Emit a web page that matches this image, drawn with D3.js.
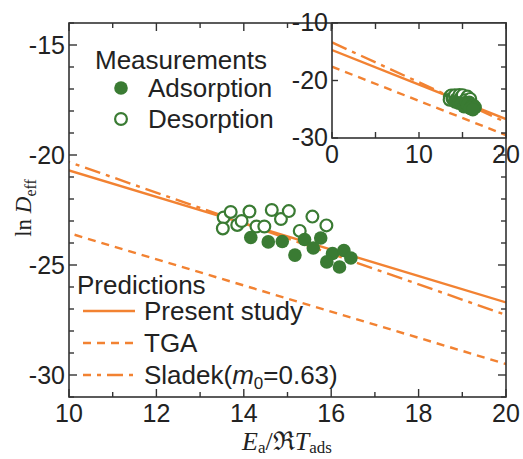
<!DOCTYPE html>
<html>
<head>
<meta charset="utf-8">
<script src="https://cdn.jsdelivr.net/npm/d3@7"></script>
<style>
  body { margin: 0; background: #fff; }
  text { font-family: "Liberation Sans", Arial, sans-serif; fill: #222; }
  .serif { font-family: "Liberation Serif", "DejaVu Serif", serif; }
</style>
</head>
<body>
<svg id="chart" width="523" height="459"></svg>
<script>
// data
const adsX = [14.16, 14.56, 14.88, 15.17, 15.39, 15.76, 15.59, 16.03, 16.29, 16.45, 15.90, 16.19];
const adsY = [-23.75, -23.95, -23.93, -24.55, -23.84, -23.77, -24.23, -24.48, -24.34, -24.68, -24.86, -25.09];
const desX = [13.54, 13.70, 13.52, 13.85, 13.95, 14.13, 14.29, 14.47, 14.64, 14.85, 15.03, 15.57, 15.28, 15.89];
const desY = [-22.84, -22.59, -23.34, -23.18, -23.0, -22.57, -23.25, -23.25, -22.5, -22.91, -22.55, -22.8, -23.45, -23.2];

// prediction lines, values at lineX
const lineX = [0, 10, 20];
const presentY = [-14.7, -20.7, -26.7];
const tgaY = [-17.6, -23.55, -29.5];
const sladekY = [-13.37, -20.32, -27.27];

const xTickLabels = [10, 12, 14, 16, 18, 20];
const yTickLabels = [-15, -20, -25, -30];
const insetXTicks = [0, 10, 20];
const insetYTicks = [-10, -20, -30];

const orange = "#f28232";
const green = "#3a7b33";
const axisCol = "#333";
const tickFont = 25;
const legFont = 26;

const svg = d3.select("#chart");

// main scales
const x = d3.scaleLinear().domain([10, 20]).range([69, 506]);
const y = d3.scaleLinear().domain([-31, -14]).range([397, 23]);

// inset scales
const xi = d3.scaleLinear().domain([0, 20]).range([332, 506]);
const yi = d3.scaleLinear().domain([-30, -10]).range([138, 23]);

const series = [
  { name: "Present study", vals: presentY, dash: null },
  { name: "TGA", vals: tgaY, dash: "8,6" },
  { name: "Sladek", vals: sladekY, dash: "16,6,4,6" }
];

svg.append("clipPath").attr("id", "clipMain")
  .append("rect").attr("x", 69).attr("y", 23).attr("width", 437).attr("height", 374);

const main = svg.append("g").attr("clip-path", "url(#clipMain)");

function drawLines(g, xs, ys) {
  const line = d3.line().x((d, i) => xs(lineX[i])).y(d => ys(d));
  series.forEach(s => {
    g.append("path")
      .attr("d", line(s.vals))
      .attr("fill", "none")
      .attr("stroke", orange)
      .attr("stroke-width", 2.4)
      .attr("stroke-dasharray", s.dash);
  });
}

function drawPoints(g, xs, ys) {
  g.selectAll(".des").data(desX).join("circle")
    .attr("class", "des")
    .attr("cx", d => xs(d))
    .attr("cy", (d, i) => ys(desY[i]))
    .attr("r", 5.9)
    .attr("fill", "#fff")
    .attr("stroke", green)
    .attr("stroke-width", 2.2);
  g.selectAll(".ads").data(adsX).join("circle")
    .attr("class", "ads")
    .attr("cx", d => xs(d))
    .attr("cy", (d, i) => ys(adsY[i]))
    .attr("r", 6.8)
    .attr("fill", green);
}

drawLines(main, x, y);
drawPoints(main, x, y);

// main frame + ticks (inward)
svg.append("rect").attr("x", 69).attr("y", 23).attr("width", 437).attr("height", 374)
  .attr("fill", "none").attr("stroke", axisCol).attr("stroke-width", 1.6);

const ticks = svg.append("g").attr("stroke", axisCol).attr("stroke-width", 1.4);
d3.range(10, 20.01, 1).forEach(v => {
  const len = v % 2 === 0 ? 8 : 5;
  ticks.append("line").attr("x1", x(v)).attr("x2", x(v)).attr("y1", 397).attr("y2", 397 - len);
  ticks.append("line").attr("x1", x(v)).attr("x2", x(v)).attr("y1", 23).attr("y2", 23 + len);
});
d3.range(-31, -13.99, 1).forEach(v => {
  const len = v % 5 === 0 ? 8 : 5;
  ticks.append("line").attr("x1", 69).attr("x2", 69 + len).attr("y1", y(v)).attr("y2", y(v));
  ticks.append("line").attr("x1", 506).attr("x2", 506 - len).attr("y1", y(v)).attr("y2", y(v));
});

svg.append("g").selectAll("text").data(xTickLabels).join("text")
  .attr("x", d => x(d)).attr("y", 422)
  .attr("text-anchor", "middle").attr("font-size", tickFont)
  .text(d => d);
svg.append("g").selectAll("text").data(yTickLabels).join("text")
  .attr("x", 65).attr("y", d => y(d) + 9)
  .attr("text-anchor", "end").attr("font-size", tickFont)
  .text(d => d);

// axis titles
const xt = svg.append("text").attr("class", "serif")
  .attr("x", 287).attr("y", 450).attr("text-anchor", "middle").attr("font-size", 26);
xt.append("tspan").attr("font-style", "italic").text("E");
xt.append("tspan").attr("font-size", 17).attr("dy", 3).text("a");
xt.append("tspan").attr("dy", -3).text("/ℜ");
xt.append("tspan").attr("font-style", "italic").text("T");
xt.append("tspan").attr("font-size", 17).attr("dy", 3).text("ads");

const yt = svg.append("text").attr("class", "serif")
  .attr("transform", "translate(31,208) rotate(-90)")
  .attr("text-anchor", "middle").attr("font-size", 23);
yt.append("tspan").text("ln ");
yt.append("tspan").attr("font-style", "italic").text("D");
yt.append("tspan").attr("font-size", 16).attr("dy", 5).text("eff");

// legends
svg.append("text").attr("x", 95).attr("y", 69).attr("font-size", legFont).text("Measurements");
svg.append("circle").attr("cx", 121).attr("cy", 88).attr("r", 6.8).attr("fill", green);
svg.append("text").attr("x", 148).attr("y", 97).attr("font-size", legFont).text("Adsorption");
svg.append("circle").attr("cx", 121).attr("cy", 119).attr("r", 5.9)
  .attr("fill", "#fff").attr("stroke", green).attr("stroke-width", 2.2);
svg.append("text").attr("x", 148).attr("y", 128).attr("font-size", legFont).text("Desorption");

svg.append("text").attr("x", 77).attr("y", 294).attr("font-size", legFont).text("Predictions");
const legY = [311, 343, 375];
const legNames = ["Present study", "TGA", null];
const legOffset = [0, 0, 8];
series.forEach((s, i) => {
  svg.append("line").attr("x1", 83).attr("x2", 135).attr("y1", legY[i]).attr("y2", legY[i])
    .attr("stroke", orange).attr("stroke-width", 2.4)
    .attr("stroke-dasharray", s.dash).attr("stroke-dashoffset", legOffset[i]);
  if (legNames[i]) {
    svg.append("text").attr("x", 144).attr("y", legY[i] + 9).attr("font-size", legFont).text(legNames[i]);
  }
});
const sl = svg.append("text").attr("x", 144).attr("y", legY[2] + 9).attr("font-size", legFont);
sl.append("tspan").text("Sladek(");
sl.append("tspan").attr("font-style", "italic").text("m");
sl.append("tspan").attr("font-size", 17).attr("dy", 5).text("0");
sl.append("tspan").attr("dy", -5).text("=0.63)");

// inset
const inset = svg.append("g");
inset.append("rect").attr("x", 332).attr("y", 23).attr("width", 174).attr("height", 115).attr("fill", "#fff");
svg.append("clipPath").attr("id", "clipInset")
  .append("rect").attr("x", 332).attr("y", 23).attr("width", 174).attr("height", 115);
const insetPlot = inset.append("g").attr("clip-path", "url(#clipInset)");
drawLines(insetPlot, xi, yi);
drawPoints(insetPlot, xi, yi);
inset.append("rect").attr("x", 332).attr("y", 23).attr("width", 174).attr("height", 115)
  .attr("fill", "none").attr("stroke", axisCol).attr("stroke-width", 1.6);
const iticks = inset.append("g").attr("stroke", axisCol).attr("stroke-width", 1.4);
d3.range(0, 20.01, 5).forEach(v => {
  iticks.append("line").attr("x1", xi(v)).attr("x2", xi(v)).attr("y1", 138).attr("y2", 132);
  iticks.append("line").attr("x1", xi(v)).attr("x2", xi(v)).attr("y1", 23).attr("y2", 29);
});
d3.range(-19, -14.99, 1).forEach(v => {
  const len = v % 5 === 0 ? 8 : 5;
  iticks.append("line").attr("x1", 506).attr("x2", 506 - len).attr("y1", y(v)).attr("y2", y(v));
});
insetYTicks.forEach(v => {
  iticks.append("line").attr("x1", 332).attr("x2", 338).attr("y1", yi(v)).attr("y2", yi(v));
});
inset.append("g").selectAll("text").data(insetXTicks).join("text")
  .attr("x", d => xi(d)).attr("y", 163)
  .attr("text-anchor", "middle").attr("font-size", tickFont)
  .text(d => d);
inset.append("g").selectAll("text").data(insetYTicks).join("text")
  .attr("x", 328).attr("y", d => yi(d) + 8)
  .attr("text-anchor", "end").attr("font-size", tickFont)
  .text(d => d);
</script>
</body>
</html>
